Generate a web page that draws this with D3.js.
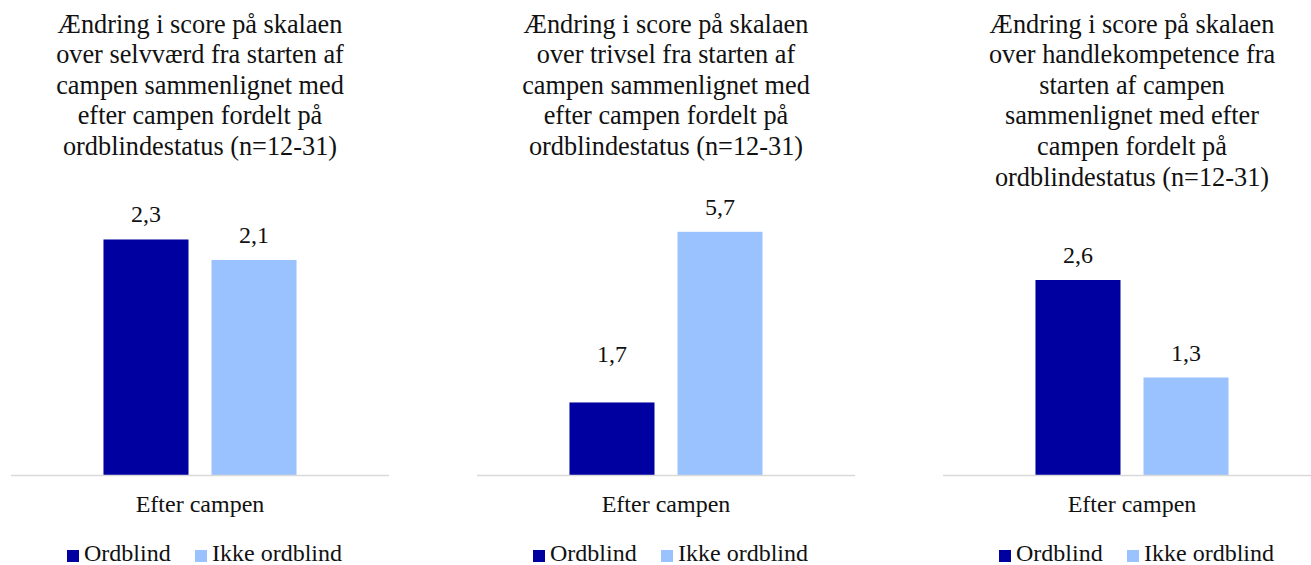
<!DOCTYPE html>
<html>
<head>
<meta charset="utf-8">
<script src="https://cdn.jsdelivr.net/npm/d3@7"></script>
<style>
  body { margin: 0; background: #fff; }
  svg text { font-family: "Liberation Serif", "Times New Roman", "DejaVu Serif", serif; fill: #111; }
</style>
</head>
<body>
<svg></svg>
<script>
// data
var seriesNames = ["Ordblind", "Ikke ordblind"];
var category = "Efter campen";
var selvvaerd = [2.3, 2.1];
var trivsel = [1.7, 5.7];
var handlekompetence = [2.6, 1.3];
var titles = [
  ["Ændring i score på skalaen", "over selvværd fra starten af", "campen sammenlignet med", "efter campen fordelt på", "ordblindestatus (n=12-31)"],
  ["Ændring i score på skalaen", "over trivsel fra starten af", "campen sammenlignet med", "efter campen fordelt på", "ordblindestatus (n=12-31)"],
  ["Ændring i score på skalaen", "over handlekompetence fra", "starten af campen", "sammenlignet med efter", "campen fordelt på", "ordblindestatus (n=12-31)"]
];
var axisMax = [2.5, 6, 3];

var width = 1311, height = 565;
var colors = ["#0000a0", "#99c2ff"];
var serif = "'Liberation Serif', 'Times New Roman', 'DejaVu Serif', serif";

var svg = d3.select("svg")
    .attr("width", width)
    .attr("height", height);

// layout per panel
var panels = [
  { left: 11, values: selvvaerd, top: 219, lift: [0, 0] },
  { left: 477, values: trivsel, top: 219, lift: [23, 0] },
  { left: 943, values: handlekompetence, top: 250, lift: [0, 0] }
];
var panelW = 378, baseY = 475;

var fmt = function(v) { return d3.format(".1f")(v).replace(".", ","); };

panels.forEach(function(p, i) {
  var g = svg.append("g").attr("transform", "translate(" + p.left + ",0)");

  var x0 = d3.scaleBand().domain([category]).range([0, panelW]).paddingInner(0).paddingOuter(0.479);
  var x1 = d3.scaleBand().domain(seriesNames).range([0, x0.bandwidth()]).paddingInner(0.213);
  var y = d3.scaleLinear().domain([0, axisMax[i]]).range([baseY, p.top]);

  // title
  var t = g.append("text")
      .attr("text-anchor", "middle")
      .attr("font-family", serif)
      .style("font-size", "26.3px");
  t.selectAll("tspan")
    .data(titles[i])
    .enter().append("tspan")
      .attr("x", panelW / 2)
      .attr("y", function(d, j) { return 32.5 + j * 30.6; })
      .text(function(d) { return d; });

  var data = seriesNames.map(function(s, k) { return { name: s, value: p.values[k], k: k }; });

  g.selectAll("rect")
    .data(data)
    .enter().append("rect")
      .attr("x", function(d) { return x0(category) + x1(d.name); })
      .attr("y", function(d) { return y(d.value); })
      .attr("width", x1.bandwidth())
      .attr("height", function(d) { return y(0) - y(d.value); })
      .attr("fill", function(d) { return colors[d.k]; });

  g.selectAll(".lbl")
    .data(data)
    .enter().append("text")
      .attr("class", "lbl")
      .attr("text-anchor", "middle")
      .attr("font-family", serif)
      .style("font-size", "24px")
      .attr("x", function(d) { return x0(category) + x1(d.name) + x1.bandwidth() / 2; })
      .attr("y", function(d) { return y(d.value) - 17 - p.lift[d.k]; })
      .text(function(d) { return fmt(d.value); });

  // x axis line
  g.append("line")
    .attr("x1", 0).attr("x2", panelW)
    .attr("y1", baseY + 0.5).attr("y2", baseY + 0.5)
    .attr("stroke", "#d9d9d9")
    .attr("stroke-width", 1.5);

  g.append("text")
    .attr("text-anchor", "middle")
    .attr("font-family", serif)
    .style("font-size", "24px")
    .attr("x", x0(category) + x0.bandwidth() / 2)
    .attr("y", 512)
    .text(category);

  // legend
  var lx = [56, 184];
  seriesNames.forEach(function(s, k) {
    g.append("rect")
      .attr("x", lx[k]).attr("y", 550)
      .attr("width", 12).attr("height", 12)
      .attr("fill", colors[k]);
    g.append("text")
      .attr("font-family", serif)
      .style("font-size", "24px")
      .attr("x", lx[k] + 17)
      .attr("y", 561)
      .text(s);
  });
});
</script>
</body>
</html>
